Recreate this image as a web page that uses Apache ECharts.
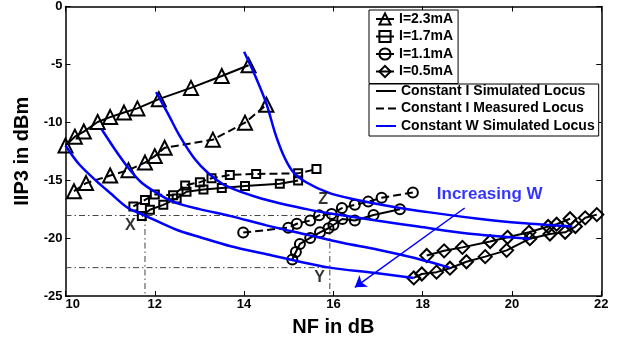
<!DOCTYPE html>
<html><head><meta charset="utf-8">
<script src="https://cdn.jsdelivr.net/npm/echarts@6/dist/echarts.min.js"></script>
<style>html,body{margin:0;padding:0;background:#fff}#c{width:628px;height:342px}</style>
</head><body><div id="c"></div>
<script>
// ---- axes ----
const nfRange = [10, 22], nfStep = 2;
const iip3Range = [-25, 0], iip3Step = 5;

// ---- I = 2.3 mA (triangles) ----
const tri23SimNF   = [10.0, 10.21, 10.41, 10.72, 11.0, 11.31, 11.61, 12.09, 12.81, 13.5, 14.1];
const tri23SimIIP3 = [-12.0, -11.24, -10.8, -9.97, -9.55, -9.16, -8.8, -8.0, -7.03, -6.0, -5.07];
const tri23MeasNF   = [10.19, 10.46, 11.0, 11.41, 11.78, 12.0, 12.22, 13.3, 14.02, 14.5];
const tri23MeasIIP3 = [-15.95, -15.25, -14.6, -14.13, -13.48, -12.92, -12.2, -11.5, -10.03, -8.49];

// ---- I = 1.7 mA (squares) ----
const sq17SimNF   = [11.71, 11.89, 12.19, 12.49, 12.71, 13.09, 13.5, 14.02, 14.8, 15.21];
const sq17SimIIP3 = [-18.1, -17.55, -17.13, -16.57, -16.0, -15.81, -15.67, -15.5, -15.3, -15.03];
const sq17MeasNF   = [11.52, 11.78, 12.0, 12.41, 12.68, 13.01, 13.27, 13.68, 14.27, 15.21, 15.62];
const sq17MeasIIP3 = [-17.27, -16.7, -16.23, -16.29, -15.45, -15.17, -14.83, -14.55, -14.46, -14.41, -14.04];

// ---- I = 1.1 mA (circles) ----
const ci11SimNF   = [15.08, 15.16, 15.25, 15.48, 15.7, 15.89, 16.0, 16.2, 16.48, 16.9, 17.49];
const ci11SimIIP3 = [-21.84, -21.2, -20.5, -19.99, -19.5, -19.15, -18.87, -18.35, -18.48, -18.0, -17.5];
const ci11MeasNF   = [13.98, 14.99, 15.18, 15.48, 15.68, 15.96, 16.19, 16.48, 16.78, 17.08, 17.78];
const ci11MeasIIP3 = [-19.52, -19.1, -18.76, -18.48, -18.03, -17.92, -17.41, -17.13, -16.85, -16.52, -16.06];

// ---- I = 0.5 mA (diamonds) ----
const di05SimNF   = [17.8, 17.98, 18.31, 18.61, 18.98, 19.4, 19.88, 20.4, 20.85, 21.19, 21.42, 21.64, 21.9];
const di05SimIIP3 = [-23.44, -23.1, -22.94, -22.6, -22.04, -21.6, -21.06, -20.05, -19.65, -19.5, -19.0, -18.25, -17.97];
const di05AltNF   = [18.09, 18.48, 18.89, 19.51, 19.9, 20.38, 20.81, 21.0, 21.3];
const di05AltIIP3 = [-21.5, -21.1, -20.8, -20.3, -19.93, -19.5, -19.0, -18.8, -18.33];

// ---- Constant W simulated loci (blue) ----
const w1NF   = [10.0, 10.3, 10.7, 11.0, 11.4, 11.78, 12.5, 13.0, 13.7, 14.5, 15.2, 15.92, 16.9, 17.8];
const w1IIP3 = [-12.0, -13.6, -15.1, -16.1, -17.4, -18.05, -19.3, -19.9, -20.7, -21.4, -22.0, -22.55, -23.0, -23.45];
const w2NF   = [10.81, 11.1, 11.4, 11.7, 12.0, 12.4, 13.0, 13.7, 14.5, 15.4, 16.2, 17.0, 17.8, 18.6];
const w2IIP3 = [-10.6, -12.3, -13.9, -15.2, -16.0, -16.85, -17.5, -18.1, -18.9, -19.7, -20.4, -21.0, -21.7, -22.55];
const w3NF   = [12.03, 12.3, 12.56, 12.9, 13.2, 13.6, 14.4, 15.4, 15.9, 17.0, 17.9, 19.0, 20.4];
const w3IIP3 = [-7.4, -9.3, -11.2, -13.2, -14.4, -15.5, -16.6, -17.5, -17.85, -18.5, -19.0, -19.6, -20.05];
const w4NF   = [14.0, 14.25, 14.5, 14.7, 14.9, 15.1, 15.4, 15.9, 16.4, 17.2, 18.2, 19.2, 20.2, 21.35];
const w4IIP3 = [-3.9, -6.0, -8.4, -11.0, -13.0, -14.3, -15.2, -16.1, -16.6, -17.2, -17.8, -18.3, -18.7, -19.0];

// ---- reference (dash-dot) guides ----
const guideH1 = [[10, -18.05], [15.92, -18.05]];
const guideH2 = [[10, -22.55], [15.92, -22.55]];
const guideV1 = [[11.78, -18.05], [11.78, -25]];
const guideV2 = [[15.92, -18.05], [15.92, -25]];

// ---- annotations ----
const annText = ['X', 'Y', 'Z'];
const annNF   = [11.45, 15.69, 15.77];
const annIIP3 = [-18.9, -23.4, -16.7];
const noteText = 'Increasing W';
const notePos = [19.5, -16.2];
const arrowFrom = [18.94, -17.4];
const arrowTo = [16.48, -24.25];

const legendCurrents = ['I=2.3mA', 'I=1.7mA', 'I=1.1mA', 'I=0.5mA'];
const legendLoci = ['Constant I Simulated Locus', 'Constant I Measured Locus', 'Constant W Simulated Locus'];

// ---- build ----
const zip = (xs, ys) => xs.map((x, i) => [x, ys[i]]);
const FONT = '"Liberation Sans", Arial, Helvetica, sans-serif';
const BLUE = '#0000ff';
const noMark = { color: 'rgba(0,0,0,0)', borderColor: 'rgba(0,0,0,0)', borderWidth: 0 };

function marked(name, xs, ys, symbol, size, dashed) {
  return {
    type: 'line', name, data: zip(xs, ys), symbol, symbolSize: size, showSymbol: true,
    lineStyle: { color: '#000', width: 2, type: dashed ? [8, 4] : 'solid' },
    itemStyle: { color: 'rgba(255,255,255,0)', borderColor: '#000', borderWidth: 2 },
    z: 3
  };
}
function wCurve(xs, ys) {
  return {
    type: 'line', name: legendLoci[2], data: zip(xs, ys), symbol: 'circle', showSymbol: false,
    smooth: 0.3, lineStyle: { color: BLUE, width: 2.5 }, itemStyle: noMark, z: 4
  };
}
function guide(pts) {
  return {
    type: 'line', data: pts, symbol: 'none', silent: true,
    lineStyle: { color: '#444', width: 1, type: [6, 3, 1.5, 3] }, z: 2
  };
}

const series = [
  marked(legendCurrents[0], tri23SimNF, tri23SimIIP3, 'triangle', 14, false),
  marked(legendCurrents[0], tri23MeasNF, tri23MeasIIP3, 'triangle', 14, true),
  marked(legendCurrents[1], sq17SimNF, sq17SimIIP3, 'rect', 8, false),
  marked(legendCurrents[1], sq17MeasNF, sq17MeasIIP3, 'rect', 8, true),
  marked(legendCurrents[2], ci11SimNF, ci11SimIIP3, 'circle', 10, false),
  marked(legendCurrents[2], ci11MeasNF, ci11MeasIIP3, 'circle', 10, true),
  marked(legendCurrents[3], di05SimNF, di05SimIIP3, 'diamond', 13, false),
  marked(legendCurrents[3], di05AltNF, di05AltIIP3, 'diamond', 13, false),
  { type: 'line', name: legendLoci[0], data: [], symbol: 'circle', lineStyle: { color: '#000', width: 2 }, itemStyle: noMark },
  { type: 'line', name: legendLoci[1], data: [], symbol: 'circle', lineStyle: { color: '#000', width: 2, type: [8, 4] }, itemStyle: noMark },
  wCurve(w1NF, w1IIP3), wCurve(w2NF, w2IIP3), wCurve(w3NF, w3IIP3), wCurve(w4NF, w4IIP3),
  guide(guideH1), guide(guideH2), guide(guideV1), guide(guideV2),
  {
    type: 'scatter', silent: true, symbolSize: 1, itemStyle: { color: 'rgba(0,0,0,0)' }, z: 5,
    data: annText.map((t, i) => ({ value: [annNF[i], annIIP3[i]], name: t }))
      .concat([{ value: notePos, name: noteText, label: { color: BLUE, fontSize: 17 } }]),
    label: { show: true, position: 'inside', formatter: p => p.name, fontFamily: FONT, fontWeight: 'bold', fontSize: 16, color: '#000' }
  },
  {
    type: 'line', data: [], symbol: 'none', silent: true, z: 5, color: BLUE,
    markLine: {
      silent: true, symbol: ['none', 'arrow'], symbolSize: 11, animation: false,
      label: { show: false },
      lineStyle: { color: BLUE, width: 1.5, type: 'solid' },
      data: [[{ coord: arrowFrom }, { coord: arrowTo }]]
    }
  }
];

const axisCommon = {
  type: 'value', splitLine: { show: false },
  axisLine: { show: true, onZero: false, lineStyle: { color: '#000', width: 1.5 } },
  axisTick: { show: true, inside: true, length: 5, lineStyle: { color: '#000', width: 1 } }
};
const labelStyle = { color: '#000', fontFamily: FONT, fontWeight: 'bold', fontSize: 13 };

const legendText = { fontFamily: FONT, fontWeight: 'bold', fontSize: 14, color: '#000' };
const option = {
  animation: false,
  backgroundColor: '#fff',
  grid: { left: 65.5, right: 26.7, top: 6.5, bottom: 38.5, containLabel: false },
  xAxis: [
    Object.assign({}, axisCommon, {
      position: 'bottom', min: nfRange[0], max: nfRange[1], interval: nfStep,
      axisLabel: Object.assign({ margin: 2, alignMinLabel: 'left' }, labelStyle),
      name: 'NF in dB', nameLocation: 'middle', nameGap: 21,
      nameTextStyle: { fontFamily: FONT, fontWeight: 'bold', fontSize: 20, color: '#000' }
    }),
    Object.assign({}, axisCommon, {
      position: 'top', min: nfRange[0], max: nfRange[1], interval: nfStep, axisLabel: { show: false }
    })
  ],
  yAxis: [
    Object.assign({}, axisCommon, {
      position: 'left', min: iip3Range[0], max: iip3Range[1], interval: iip3Step,
      axisLabel: Object.assign({ margin: 3 }, labelStyle),
      name: 'IIP3 in dBm', nameLocation: 'middle', nameGap: 31,
      nameTextStyle: { fontFamily: FONT, fontWeight: 'bold', fontSize: 20, color: '#000' }
    }),
    Object.assign({}, axisCommon, {
      position: 'right', min: iip3Range[0], max: iip3Range[1], interval: iip3Step, axisLabel: { show: false }
    })
  ],
  legend: [
    {
      data: legendCurrents, orient: 'vertical', left: 369, top: 10,
      padding: [2, 5, 5, 6], itemGap: 3.5, itemWidth: 18, itemHeight: 14,
      backgroundColor: '#fff', borderColor: '#000', borderWidth: 1, borderRadius: 0,
      textStyle: legendText, selectedMode: false
    },
    {
      data: legendLoci, orient: 'vertical', left: 369, top: 84,
      padding: [0, 4, 3, 6], itemGap: 3.5, itemWidth: 20, itemHeight: 14,
      backgroundColor: '#fff', borderColor: '#000', borderWidth: 1, borderRadius: 0,
      textStyle: legendText, selectedMode: false
    }
  ],
  series
};
echarts.init(document.getElementById('c'), null, { renderer: 'canvas' }).setOption(option);
</script>
</body></html>
